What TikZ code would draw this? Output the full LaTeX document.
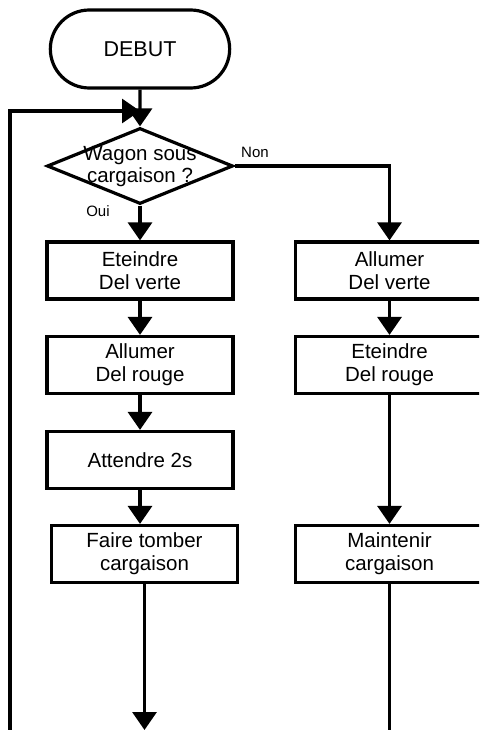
\documentclass[tikz,border=0pt]{standalone}
\usepackage{fontspec}
\setmainfont{Liberation Sans}
\usetikzlibrary{arrows.meta, shapes.geometric, shapes.misc}

\tikzset{
  bloc/.style={draw, line width=3.2pt, minimum width=186pt, minimum height=57pt,
    inner sep=0pt, align=center, font=\fontsize{20.5}{23}\selectfont},
  debutfin/.style={draw, rounded rectangle, line width=3.2pt, minimum width=186pt,
    minimum height=78pt, font=\fontsize{21.5}{24}\selectfont},
  decision/.style={draw, diamond, line width=3.2pt, minimum width=186pt,
    minimum height=76pt, inner sep=0pt},
  lbl/.style={font=\fontsize{15}{17}\selectfont, inner sep=0pt},
  flow/.style={line width=3.2pt, -{Triangle[width=24pt,length=18pt]}},
  trait/.style={line width=3.2pt}
}

\begin{document}
\begin{tikzpicture}[x=1pt,y=-1pt]
\useasboundingbox (0,0) rectangle (479,730);
\clip (0,0) rectangle (479,730);

\node[debutfin] (debut) at (140,49) {DEBUT};
\node[decision] (test) at (140,166) {};
\node[align=center, font=\fontsize{20.5}{22.5}\selectfont] (testtxt) at (140,166.5) {Wagon sous\\cargaison ?};

% branche Oui
\node[bloc] (b1) at (140,270.5) {Eteindre\\Del verte};
\node[bloc] (b2) at (140,365) {Allumer\\Del rouge};
\node[bloc] (b3) at (140,460) {Attendre 2s};
\node[bloc] (b4) at (144.5,554) {Faire tomber\\cargaison};

% branche Non
\node[bloc, minimum width=188pt] (r1) at (389.5,270.5) {Allumer\\Del verte};
\node[bloc, minimum width=188pt] (r2) at (389.5,365) {Eteindre\\Del rouge};
\node[bloc, minimum width=188pt] (r3) at (389.5,554) {Maintenir\\cargaison};

\node[lbl] (non) at (255,152.5) {Non};
\node[lbl] (oui) at (98,211) {Oui};

\coordinate (merge) at (140,111);
\coordinate (bas) at (0,730);
\coordinate (retour) at (10,730);

\draw[flow] (debut) -- (test);
\draw[flow] (retour) |- (merge);
\draw[flow] (test) -- (b1);
\draw[flow] (b1) -- (b2);
\draw[flow] (b2) -- (b3);
\draw[flow] (b3) -- (b3 |- b4.north);
\draw[flow] (b4) -- (b4 |- bas);
\draw[flow] (test.east) -| (r1.north);
\draw[flow] (r1) -- (r2);
\draw[flow] (r2) -- (r3);
\draw[trait] (r3) -- (r3 |- bas);
\end{tikzpicture}
\end{document}
